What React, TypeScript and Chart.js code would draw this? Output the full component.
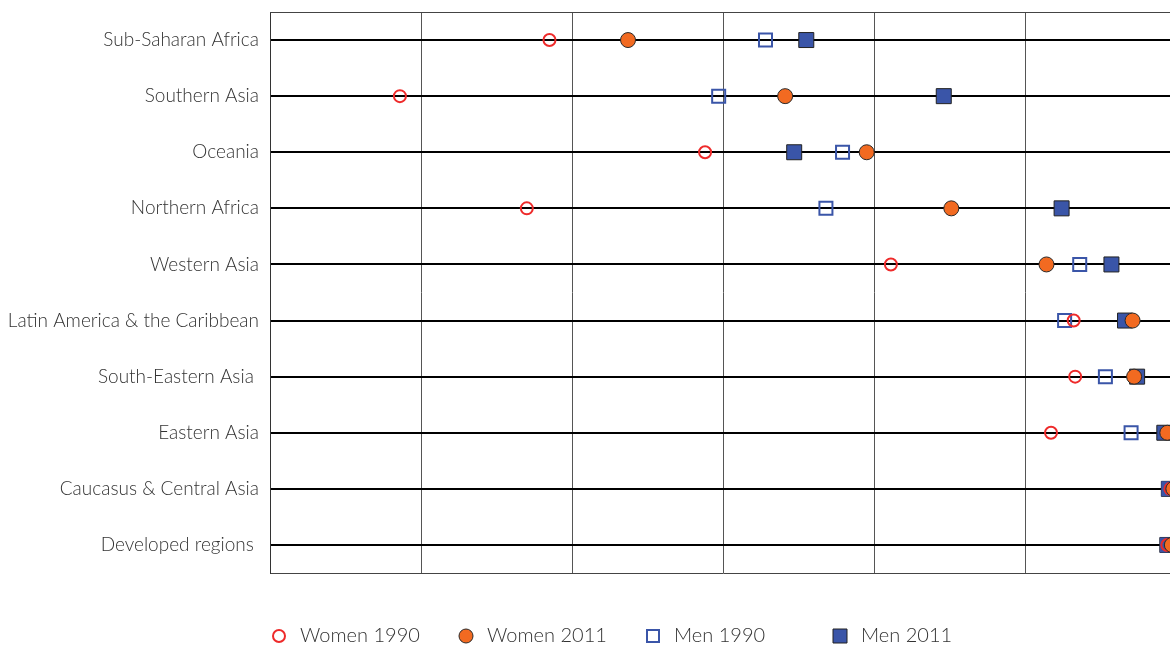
import React, { useEffect, useRef } from "react";
import { Chart, registerables } from "chart.js";

Chart.register(...registerables);

const regions = [
  "Sub-Saharan Africa",
  "Southern Asia",
  "Oceania",
  "Northern Africa",
  "Western Asia",
  "Latin America & the Caribbean",
  "South-Eastern Asia ",
  "Eastern Asia",
  "Caucasus & Central Asia",
  "Developed regions ",
];

const women1990 = [58.5, 48.6, 68.8, 57.0, 81.1, 93.2, 93.3, 91.7, 99.6, 99.4];
const women2011 = [63.7, 74.1, 79.5, 85.1, 91.4, 97.1, 97.2, 99.4, 99.8, 99.7];
const men1990 = [72.8, 69.7, 77.9, 76.8, 93.6, 92.6, 95.3, 97.0, 99.5, 99.4];
const men2011 = [75.5, 84.6, 74.7, 92.4, 95.7, 96.6, 97.4, 99.2, 99.5, 99.4];

const xTicks = [40, 50, 60, 70, 80, 90, 100];

const FONT = "Lato, 'Open Sans', sans-serif";

const legendPlugin = {
  id: "fixedLegend",
  afterDraw(chart: any) {
    const ctx = chart.ctx;
    const area = chart.chartArea;
    const y = area.bottom + 63;
    ctx.save();
    chart.data.datasets.forEach((ds: any, i: number) => {
      const x = area.left + 9 + i * 187;
      ctx.save();
      ctx.fillStyle = ds.pointBackgroundColor;
      ctx.strokeStyle = ds.pointBorderColor;
      ctx.lineWidth = ds.legendBorderWidth;
      const r = ds.legendRadius;
      ctx.beginPath();
      if (ds.pointStyle === "circle") {
        ctx.arc(x, y, r, 0, Math.PI * 2);
      } else {
        ctx.rect(x - r, y - r, 2 * r, 2 * r);
      }
      if (ds.pointBackgroundColor !== "transparent") ctx.fill();
      ctx.stroke();
      ctx.restore();
      ctx.fillStyle = "#333";
      ctx.font = "300 20px " + FONT;
      ctx.textBaseline = "middle";
      ctx.textAlign = "left";
      ctx.fillText(ds.label, x + 21, y);
    });
    ctx.restore();
  },
};

const framePlugin = {
  id: "frame",
  beforeDatasetsDraw(chart: any) {
    const ctx = chart.ctx;
    const a = chart.chartArea;
    ctx.save();
    ctx.strokeStyle = "#444";
    ctx.lineWidth = 1;
    ctx.beginPath();
    ctx.moveTo(a.left, a.top + 0.5);
    ctx.lineTo(a.right, a.top + 0.5);
    ctx.stroke();
    ctx.restore();
  },
};

export default function App() {
  const ref = useRef<HTMLCanvasElement | null>(null);

  useEffect(() => {
    document.body.style.margin = "0";
    document.body.style.overflow = "hidden";
    const canvas = ref.current!;
    const chart = new Chart(canvas, {
      type: "line",
      data: {
        labels: regions,
        datasets: [
          {
            label: "Women 1990",
            data: women1990,
            showLine: false,
            pointStyle: "circle",
            pointRadius: 6,
            pointBorderWidth: 2,
            pointBackgroundColor: "transparent",
            pointBorderColor: "#ee2a2a",
            backgroundColor: "transparent",
            borderColor: "#ee2a2a",
            order: 1,
            clip: false,
            legendRadius: 6,
            legendBorderWidth: 2,
          } as any,
          {
            label: "Women 2011",
            data: women2011,
            showLine: false,
            pointStyle: "circle",
            pointRadius: 7.5,
            pointBorderWidth: 1,
            pointBackgroundColor: "#f26a21",
            pointBorderColor: "#2a2a2a",
            backgroundColor: "#f26a21",
            borderColor: "#2a2a2a",
            order: 0,
            clip: false,
            legendRadius: 7,
            legendBorderWidth: 1,
          } as any,
          {
            label: "Men 1990",
            data: men1990,
            showLine: false,
            pointStyle: "rect",
            pointRadius: 9.2,
            pointBorderWidth: 2,
            pointBackgroundColor: "transparent",
            pointBorderColor: "#3a55a8",
            backgroundColor: "transparent",
            borderColor: "#3a55a8",
            order: 2,
            clip: false,
            legendRadius: 6,
            legendBorderWidth: 2,
          } as any,
          {
            label: "Men 2011",
            data: men2011,
            showLine: false,
            pointStyle: "rect",
            pointRadius: 10.6,
            pointBorderWidth: 1,
            pointBackgroundColor: "#3a55a8",
            pointBorderColor: "#222",
            backgroundColor: "#3a55a8",
            borderColor: "#222",
            order: 3,
            clip: false,
            legendRadius: 7,
            legendBorderWidth: 1,
          } as any,
        ],
      },
      options: {
        indexAxis: "y",
        animation: false,
        responsive: false,
        maintainAspectRatio: false,
        layout: { padding: { top: 12, bottom: 72, left: 0, right: 10 } },
        plugins: {
          legend: { display: false },
          tooltip: { enabled: false },
        },
        scales: {
          x: {
            type: "linear",
            min: 40,
            max: 100,
            afterBuildTicks: (scale: any) => {
              scale.ticks = xTicks.map((v) => ({ value: v }));
            },
            ticks: { display: false },
            grid: { color: "#555", lineWidth: 1, drawTicks: false },
            border: { display: true, color: "#444", width: 1 },
            afterFit: (scale: any) => {
              scale.height = 0;
              scale.paddingLeft = 0;
              scale.paddingRight = 0;
            },
          },
          y: {
            type: "category",
            offset: true,
            grid: { color: "#000", lineWidth: 2, drawTicks: false, offset: false },
            border: { display: true, color: "#333", width: 1 },
            ticks: {
              color: "#333",
              padding: 11,
              font: { family: FONT, size: 19, weight: "300" as any },
            },
            afterFit: (scale: any) => {
              scale.width = 270;
              scale.paddingTop = 0;
              scale.paddingBottom = 0;
            },
          },
        },
      } as any,
      plugins: [framePlugin, legendPlugin],
    });
    return () => chart.destroy();
  }, []);

  return (
    <div
      style={{
        position: "fixed",
        left: 0,
        top: 0,
        width: 1170,
        height: 645,
        overflow: "hidden",
        background: "#fff",
      }}
    >
      <canvas ref={ref} width={1188} height={645} style={{ display: "block" }} />
    </div>
  );
}
